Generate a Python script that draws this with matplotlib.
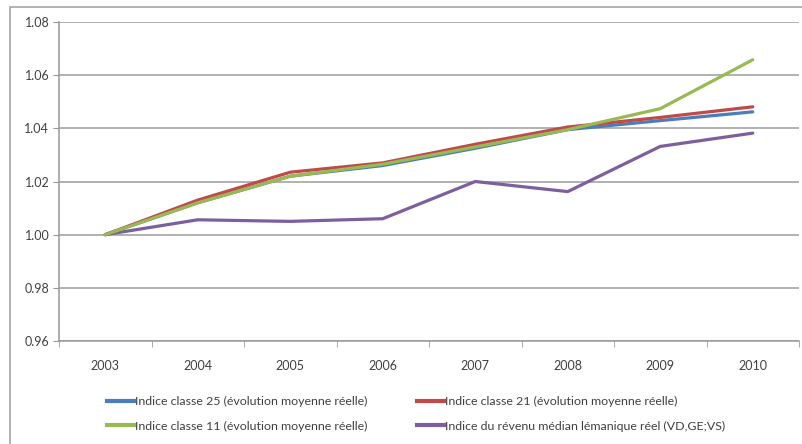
import matplotlib
matplotlib.use("Agg")
import matplotlib.pyplot as plt
from matplotlib.lines import Line2D
from matplotlib.patches import Rectangle

plt.rcParams['font.family'] = ['Lato', 'DejaVu Sans']

years = ["2003", "2004", "2005", "2006", "2007", "2008", "2009", "2010"]
classe25 = [1.000, 1.012, 1.022, 1.026, 1.0325, 1.0395, 1.0429, 1.0462]
classe21 = [1.000, 1.013, 1.0235, 1.027, 1.034, 1.0405, 1.0441, 1.0481]
classe11 = [1.000, 1.012, 1.022, 1.0265, 1.033, 1.0395, 1.0474, 1.0658]
revenu = [1.000, 1.0056, 1.005, 1.006, 1.020, 1.0162, 1.0332, 1.0382]

labels = [
    "Indice classe 25 (évolution moyenne réelle)",
    "Indice classe 21 (évolution moyenne réelle)",
    "Indice classe 11 (évolution moyenne réelle)",
    "Indice du révenu médian lémanique réel (VD,GE;VS)",
]
colors = ["#4A7EBB", "#BE4B48", "#98B954", "#7D5FA0"]
yticks = [0.96, 0.98, 1.00, 1.02, 1.04, 1.06, 1.08]

fig = plt.figure(figsize=(8.02, 4.44), dpi=100)
fig.patches.append(Rectangle((10/802, -0.1), 1.0, 1 - 7/444 + 0.1,
                             transform=fig.transFigure, fill=False,
                             edgecolor="#A6A6A6", linewidth=1.2))
ax = fig.add_axes([59/802, 1 - 341/444, (799 - 59)/802, (341 - 22)/444])

x = list(range(len(years)))
series = [classe25, classe21, classe11, revenu]
for i in [3, 0, 1, 2]:
    ax.plot(x, series[i], color=colors[i], linewidth=2.3, solid_capstyle='round')

ax.set_xlim(-0.5, len(years) - 0.5)
ax.set_ylim(0.96, 1.08)
ax.set_yticks(yticks)
ax.set_yticklabels([f"{v:.2f}" for v in yticks], fontsize=9, color="#404040")
ax.set_xticks(x)
ax.set_xticklabels(years, fontsize=9, color="#404040")
ax.set_xticks([i - 0.5 for i in range(len(years) + 1)], minor=True)
ax.tick_params(axis='x', which='major', length=0, pad=14)
ax.tick_params(axis='x', which='minor', length=4, color="#999999", direction='out')
ax.tick_params(axis='y', length=4, color="#999999", direction='out', pad=3)
ax.grid(axis='y', color="#9C9C9C", linewidth=1.1)
ax.set_axisbelow(True)
for s in ['top', 'right']:
    ax.spines[s].set_visible(False)
for s in ['left', 'bottom']:
    ax.spines[s].set_color("#999999")
    ax.spines[s].set_linewidth(1.1)

leg_order = [0, 2, 1, 3]
handles = [Line2D([0], [0], color=colors[i], linewidth=3) for i in leg_order]
leg = fig.legend(handles, [labels[i] for i in leg_order], ncol=2, loc='upper left',
                 bbox_to_anchor=(96/802, 1 - 385/444), frameon=False,
                 fontsize=8.9, handlelength=2.2, handletextpad=0.05,
                 columnspacing=4.0, labelspacing=1.1, labelcolor="#404040")

fig.savefig("out.png", dpi=100)
